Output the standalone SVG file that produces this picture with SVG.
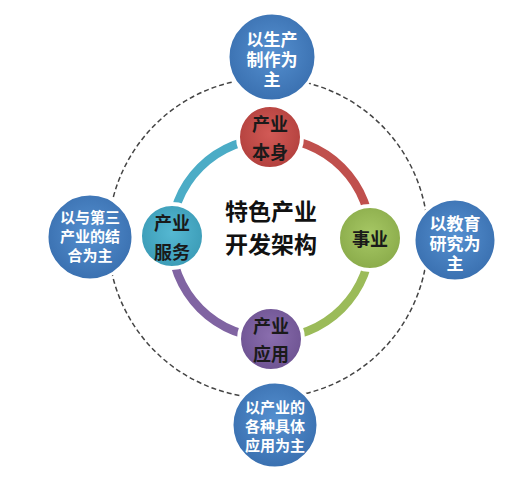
<svg xmlns="http://www.w3.org/2000/svg" width="529" height="484" viewBox="0 0 529 484">
<defs>
<radialGradient id="gBlue" cx="50%" cy="45%" r="55%"><stop offset="0" stop-color="#5590d0"/><stop offset="1" stop-color="#3a70b0"/></radialGradient>
<radialGradient id="gRed" cx="50%" cy="45%" r="55%"><stop offset="0" stop-color="#d25a56"/><stop offset="1" stop-color="#b2403d"/></radialGradient>
<radialGradient id="gTeal" cx="50%" cy="45%" r="55%"><stop offset="0" stop-color="#55b8d2"/><stop offset="1" stop-color="#3b9bb6"/></radialGradient>
<radialGradient id="gGreen" cx="50%" cy="45%" r="55%"><stop offset="0" stop-color="#a7c865"/><stop offset="1" stop-color="#8aab4a"/></radialGradient>
<radialGradient id="gPurple" cx="50%" cy="45%" r="55%"><stop offset="0" stop-color="#8a6eae"/><stop offset="1" stop-color="#6e5392"/></radialGradient>
</defs>
<style>
.ring{fill:none;stroke-width:8.5}
.node{stroke:#ffffff;stroke-width:4}
.outer{stroke:#ffffff;stroke-width:3}
.t{font-family:"Noto Sans CJK SC","Noto Sans",sans-serif;font-weight:bold;text-anchor:middle;dominant-baseline:central}
.tw{fill:#ffffff}
.td{fill:#1a1a1a}
</style>
<rect width="529" height="484" fill="#ffffff"/>
<g id="connectors">
<circle cx="268" cy="238" r="160" fill="none" stroke="#444" stroke-width="1.5" stroke-dasharray="5 3"/>
<path class="ring" stroke="#c0504d" d="M271,138 A100,100 0 0 1 371,238"/>
<path class="ring" stroke="#9bbb59" d="M371,238 A100,100 0 0 1 271,338"/>
<path class="ring" stroke="#8064a2" d="M271,338 A100,100 0 0 1 171,238"/>
<path class="ring" stroke="#4bacc6" d="M171,238 A100,100 0 0 1 271,138"/>
</g>
<g id="center">
<text class="t" font-size="23" fill="#111"><tspan x="271" y="210">特色产业</tspan><tspan x="271" y="243">开发架构</tspan></text>
</g>
<g id="n-top">
<circle class="outer" cx="272" cy="57" r="44" fill="url(#gBlue)"/>
<text class="t tw" font-size="17"><tspan x="272" y="38">以生产</tspan><tspan x="272" y="58">制作为</tspan><tspan x="272" y="78">主</tspan></text>
</g>
<g id="n-left">
<circle class="outer" cx="90" cy="237" r="43" fill="url(#gBlue)"/>
<text class="t tw" font-size="15"><tspan x="90" y="216">以与第三</tspan><tspan x="90" y="235">产业的结</tspan><tspan x="90" y="254">合为主</tspan></text>
</g>
<g id="n-right">
<circle class="outer" cx="455" cy="240" r="41" fill="url(#gBlue)"/>
<text class="t tw" font-size="17"><tspan x="455" y="222">以教育</tspan><tspan x="455" y="242">研究为</tspan><tspan x="455" y="262">主</tspan></text>
</g>
<g id="n-bottom">
<circle class="outer" cx="275" cy="425" r="43" fill="url(#gBlue)"/>
<text class="t tw" font-size="15"><tspan x="275" y="406">以产业的</tspan><tspan x="275" y="425">各种具体</tspan><tspan x="275" y="444">应用为主</tspan></text>
</g>
<g id="i-top">
<circle class="node" cx="270" cy="137" r="32" fill="url(#gRed)"/>
<text class="t td" font-size="18"><tspan x="270" y="123">产业</tspan><tspan x="270" y="151">本身</tspan></text>
</g>
<g id="i-left">
<circle class="node" cx="172" cy="236" r="32" fill="url(#gTeal)"/>
<text class="t td" font-size="18"><tspan x="172" y="222">产业</tspan><tspan x="172" y="251">服务</tspan></text>
</g>
<g id="i-right">
<circle class="node" cx="370" cy="238" r="32" fill="url(#gGreen)"/>
<text class="t td" x="370" y="238" font-size="18">事业</text>
</g>
<g id="i-bottom">
<circle class="node" cx="271" cy="339" r="32" fill="url(#gPurple)"/>
<text class="t td" font-size="18"><tspan x="271" y="325">产业</tspan><tspan x="271" y="353">应用</tspan></text>
</g>
</svg>
